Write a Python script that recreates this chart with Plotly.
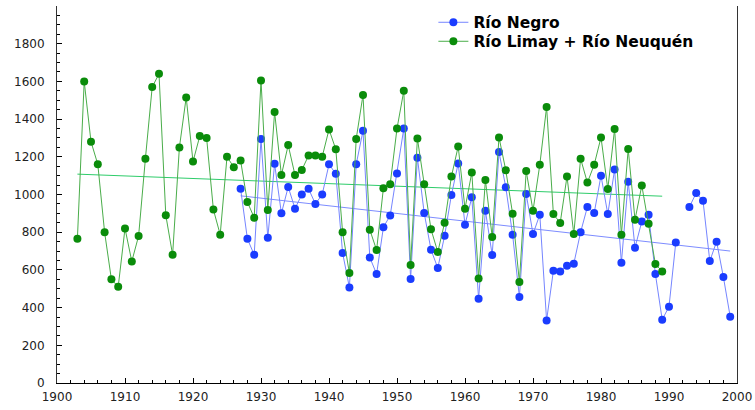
import plotly.graph_objects as go

# Río Negro (1927-1999, 1992 missing)
negro_years = list(range(1927, 2000))
negro_vals = [1030, 765, 680, 1295, 770, 1163, 900, 1040, 925, 1000,
              1030, 950, 1000, 1160, 1110, 690, 507, 1160, 1338, 666,
              578, 826, 889, 1112, 1350, 552, 1195, 902, 707, 610,
              781, 997, 1165, 840, 985, 447, 914, 679, 1225, 1038,
              787, 456, 1003, 790, 893, 332, 596, 592, 622, 633,
              800, 934, 902, 1100, 896, 1132, 638, 1068, 718, 857,
              893, 578, 336, 405, 746, None, 934, 1008, 967, 647,
              750, 562, 352]

# Río Limay + Río Neuquén (1903-1989)
limay_years = list(range(1903, 1990))
limay_vals = [765, 1600, 1280, 1160, 800, 550, 510, 820, 645, 780,
              1190, 1570, 1640, 890, 680, 1250, 1515, 1175, 1310, 1300,
              920, 787, 1200, 1145, 1180, 960, 877, 1605, 918, 1438,
              1103, 1262, 1103, 1130, 1207, 1207, 1200, 1345, 1240, 800,
              583, 1295, 1528, 813, 705, 1033, 1055, 1350, 1550, 626,
              1297, 1055, 815, 695, 850, 1095, 1255, 925, 1117, 555,
              1077, 775, 1303, 1128, 898, 536, 1125, 914, 1158, 1464,
              896, 849, 1096, 790, 1190, 1063, 1158, 1303, 1029, 1347,
              787, 1241, 866, 1048, 845, 631, 592]

# Linear trend lines (end points)
negro_trend_years = [1927, 1999]
negro_trend_vals = [993, 700]
limay_trend_years = [1903, 1989]
limay_trend_vals = [1108, 991]

y_ticks = [0, 200, 400, 600, 800, 1000, 1200, 1400, 1600, 1800]
x_ticks = list(range(1900, 2001, 10))

fig = go.Figure()

fig.add_trace(go.Scatter(x=negro_trend_years, y=negro_trend_vals, mode="lines",
                         line=dict(color="#7d8cff", width=1), showlegend=False,
                         hoverinfo="skip"))
fig.add_trace(go.Scatter(x=limay_trend_years, y=limay_trend_vals, mode="lines",
                         line=dict(color="#2ecc6a", width=1), showlegend=False,
                         hoverinfo="skip"))

fig.add_trace(go.Scatter(x=negro_years, y=negro_vals, mode="lines+markers",
                         name="Río Negro", connectgaps=False, legend="legend",
                         line=dict(color="#7585ff", width=1),
                         marker=dict(color="#1a3cff", size=8, symbol="circle")))
fig.add_trace(go.Scatter(x=limay_years, y=limay_vals, mode="lines+markers",
                         name="Río Limay + Río Neuquén", legend="legend2",
                         line=dict(color="#4aad4a", width=1),
                         marker=dict(color="#0a8c0a", size=8, symbol="circle")))

tickfont = dict(family="DejaVu Sans", size=12, color="#222222")
legfont = dict(family="DejaVu Sans", size=15.5, color="black", weight="bold")

fig.update_layout(
    width=755, height=410,
    margin=dict(l=57, r=18, t=6, b=27),
    paper_bgcolor="white", plot_bgcolor="white",
    showlegend=True,
    legend=dict(x=0.5535, y=0.9557, xanchor="left", yanchor="middle",
                bgcolor="rgba(0,0,0,0)", borderwidth=0, font=legfont, itemwidth=30),
    legend2=dict(x=0.5535, y=0.9053, xanchor="left", yanchor="middle",
                 bgcolor="rgba(0,0,0,0)", borderwidth=0, font=legfont, itemwidth=30),
)

fig.update_xaxes(range=[1900, 2000], tickvals=x_ticks, ticktext=[str(v) for v in x_ticks],
                 ticks="inside", ticklen=5, tickcolor="black", tickwidth=1,
                 showline=True, linecolor="black", linewidth=1, mirror=False,
                 showgrid=False, zeroline=False, tickfont=tickfont, automargin=False,
                 ticklabelstandoff=3,
                 minor=dict(dtick=2, ticks="inside", ticklen=3, tickcolor="black", showgrid=False))
fig.update_yaxes(range=[0, 2000], tickvals=y_ticks, ticktext=[str(v) for v in y_ticks],
                 ticks="inside", ticklen=5, tickcolor="black", tickwidth=1,
                 showline=True, linecolor="#333333", linewidth=1, mirror=True,
                 showgrid=False, zeroline=False, tickfont=tickfont, automargin=False,
                 ticklabelstandoff=9,
                 minor=dict(dtick=50, ticks="inside", ticklen=3, tickcolor="black", showgrid=False))

fig.write_html("out.html", post_script="document.body.style.margin='0';",
               config={"displayModeBar": False})
